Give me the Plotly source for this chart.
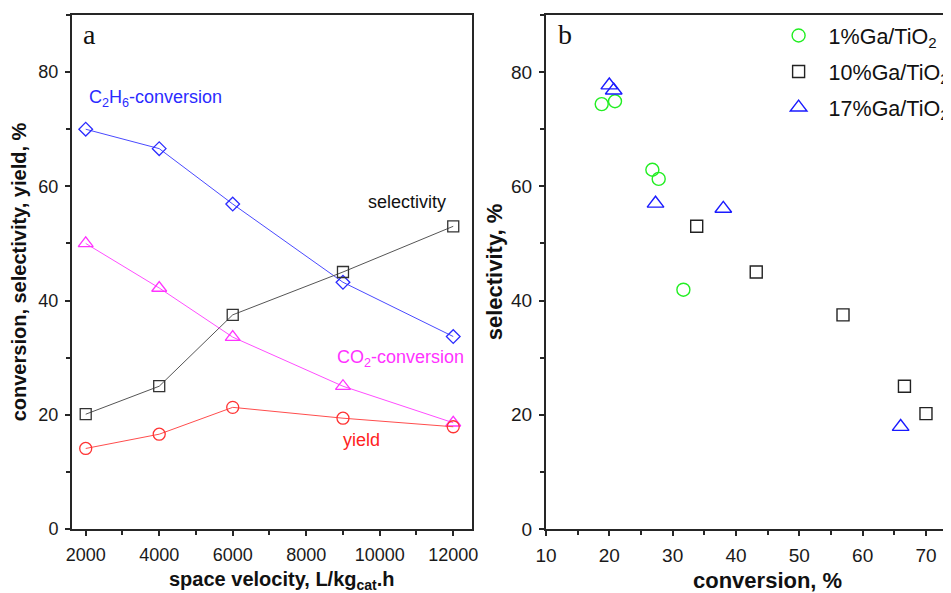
import plotly.graph_objects as go

# ---- Panel a data ----
space_velocity = [2000, 4000, 6000, 9000, 12000]
c2h6_conversion = [70.0, 66.6, 56.9, 43.2, 33.7]
selectivity = [20.1, 25.0, 37.5, 45.0, 53.0]
co2_conversion = [50.0, 42.2, 33.6, 25.0, 18.6]
yield_pct = [14.1, 16.6, 21.3, 19.4, 17.9]

# ---- Panel b data ----
ga1_conversion = [18.8, 20.9, 26.8, 27.8, 31.7]
ga1_selectivity = [74.4, 74.9, 62.9, 61.3, 41.9]
ga10_conversion = [70.0, 66.6, 56.9, 43.2, 33.8]
ga10_selectivity = [20.2, 25.0, 37.5, 45.0, 53.0]
ga17_conversion = [20.0, 20.7, 27.3, 38.0, 66.0]
ga17_selectivity = [77.7, 76.8, 57.0, 56.1, 17.9]

x_ticks_a = [2000, 4000, 6000, 8000, 10000, 12000]
x_ticks_b = [10, 20, 30, 40, 50, 60, 70]
y_ticks = [0, 20, 40, 60, 80]

FONT = "Liberation Sans, Arial, sans-serif"
SERIF = "Liberation Serif, Times New Roman, serif"
AX = "#262626"

fig = go.Figure()

def line_trace(x, y, color, mcolor, symbol, size):
    return go.Scatter(x=x, y=y, mode="lines+markers", xaxis="x", yaxis="y",
                      line=dict(color=color, width=1),
                      marker=dict(symbol=symbol, size=size, color=mcolor,
                                  line=dict(width=1.3)),
                      showlegend=False)

fig.add_trace(line_trace(space_velocity, c2h6_conversion, "#4a4aff", "#2b2bff", "diamond-open", 10.5))
fig.add_trace(line_trace(space_velocity, selectivity, "#555555", "#333333", "square-open", 11))
fig.add_trace(line_trace(space_velocity, co2_conversion, "#ff4dff", "#ff33ff", "triangle-up-open", 13))
fig.add_trace(line_trace(space_velocity, yield_pct, "#ff4d4d", "#ff3333", "circle-open", 12))

def pts(x, y, name, color, symbol, size, grp):
    return go.Scatter(x=x, y=y, mode="markers", xaxis="x2", yaxis="y2", name=name,
                      legendgroup=grp,
                      marker=dict(symbol=symbol, size=size, color=color,
                                  line=dict(width=1.4)))

fig.add_trace(pts(ga1_conversion, ga1_selectivity, "1%Ga/TiO<sub>2</sub>", "#22ee22", "circle-open", 13, "g1"))
fig.add_trace(pts(ga10_conversion, ga10_selectivity, "10%Ga/TiO<sub>2</sub>", "#222222", "square-open", 12, "g2"))
fig.add_trace(pts(ga17_conversion, ga17_selectivity, "17%Ga/TiO<sub>2</sub>", "#1a1aff", "triangle-up-open", 14.5, "g3"))

common_axis = dict(showline=True, linecolor=AX, linewidth=2, ticks="outside", ticklen=5,
                   tickwidth=1.5, tickcolor=AX, showgrid=False, zeroline=False,
                   ticklabelstandoff=3)

fig.update_layout(
    width=943, height=585,
    margin=dict(l=64, r=0, t=7, b=63.5, autoexpand=False),
    plot_bgcolor="white", paper_bgcolor="white",
    xaxis=dict(domain=[0, 0.455], range=[1627, 12509], tickvals=x_ticks_a, tickformat="d",
               mirror=True, anchor="y",
               tickfont=dict(family=FONT, size=18, color="#1a1a1a"),
               minor=dict(dtick=1000, tick0=1000, ticks="outside", ticklen=4, tickcolor=AX, tickwidth=1.5),
               **common_axis),
    yaxis=dict(domain=[0, 1], range=[0, 90], tickvals=y_ticks, mirror=True, anchor="x",
               tickfont=dict(family=FONT, size=18, color="#1a1a1a"),
               minor=dict(dtick=10, tick0=0, ticks="outside", ticklen=4, tickcolor=AX, tickwidth=1.5),
               title=dict(text="<b>conversion, selectivity, yield, %</b>",
                          font=dict(family=FONT, size=20, color="#111"), standoff=6),
               **common_axis),
    xaxis2=dict(domain=[0.5392, 1], range=[10, 73.95], tickvals=x_ticks_b,
                mirror=True, anchor="y2",
                tickfont=dict(family=FONT, size=19, color="#1a1a1a"),
                minor=dict(dtick=5, tick0=0, ticks="outside", ticklen=4, tickcolor=AX, tickwidth=1.5),
                **common_axis),
    yaxis2=dict(domain=[0, 1], range=[0, 90], tickvals=y_ticks, mirror=False, anchor="x2",
                tickfont=dict(family=FONT, size=19, color="#1a1a1a"),
                minor=dict(dtick=10, tick0=0, ticks="outside", ticklen=4, tickcolor=AX, tickwidth=1.5),
                title=dict(text="<b>selectivity, %</b>",
                           font=dict(family=FONT, size=22, color="#111"), standoff=2),
                **common_axis),
    legend=dict(x=0.7925, y=1.0, xanchor="left", yanchor="top", bgcolor="rgba(0,0,0,0)",
                font=dict(family=FONT, size=21.5, color="#111"), tracegroupgap=5,
                traceorder="grouped", itemwidth=50),
)

annos = [
    dict(text="C<sub>2</sub>H<sub>6</sub>-conversion", x=2030, y=75.3, color="#2b2bff"),
    dict(text="selectivity", x=9615, y=57.3, color="#111111"),
    dict(text="CO<sub>2</sub>-conversion", x=8780, y=29.8, color="#ff33ff"),
    dict(text="yield", x=8935, y=15.5, color="#ff2222"),
]
for a in annos:
    fig.add_annotation(text=a["text"], x=a["x"], y=a["y"], xref="x", yref="y",
                       xanchor="left", yanchor="middle", showarrow=False,
                       font=dict(family=FONT, size=18, color=a["color"]))

fig.add_annotation(text="a", xref="x domain", yref="y domain", x=0.022, y=0.997,
                   xanchor="left", yanchor="top", showarrow=False,
                   font=dict(family=SERIF, size=28, color="#111"))
fig.add_annotation(text="b", xref="x2 domain", yref="y2 domain", x=0.025, y=0.997,
                   xanchor="left", yanchor="top", showarrow=False,
                   font=dict(family=SERIF, size=28, color="#111"))
fig.add_annotation(text="<b>space velocity, L/kg<sub>cat</sub>.h</b>", xref="paper", yref="paper",
                   x=0.2389, y=-0.1004, xanchor="center", yanchor="middle", showarrow=False,
                   font=dict(family=FONT, size=20, color="#111"))
fig.add_annotation(text="<b>conversion, %</b>", xref="x2", yref="paper", x=44.9, y=-0.1004,
                   xanchor="center", yanchor="middle", showarrow=False,
                   font=dict(family=FONT, size=22, color="#111"))

fig.write_html("out.html")
